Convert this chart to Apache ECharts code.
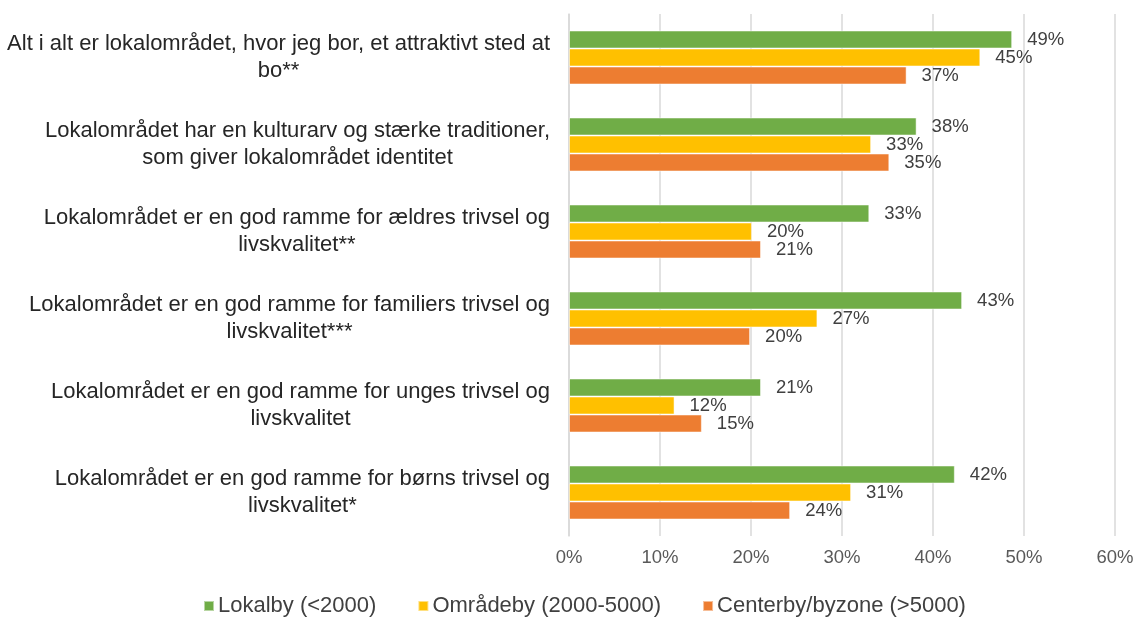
<!DOCTYPE html>
<html>
<head>
<meta charset="utf-8">
<script src="https://cdn.jsdelivr.net/npm/echarts@6/dist/echarts.min.js"></script>
<style>
  html, body { margin: 0; padding: 0; background: #fff; }
  #chart { width: 1138px; height: 617px; }
</style>
</head>
<body>
<div id="chart"></div>
<script>
const categories = [
  'Alt i alt er lokalområdet, hvor jeg bor, et attraktivt sted at\nbo**',
  'Lokalområdet har en kulturarv og stærke traditioner,\nsom giver lokalområdet identitet',
  'Lokalområdet er en god ramme for ældres trivsel og\nlivskvalitet**',
  'Lokalområdet er en god ramme for familiers trivsel og\nlivskvalitet***',
  'Lokalområdet er en god ramme for unges trivsel og\nlivskvalitet',
  'Lokalområdet er en god ramme for børns trivsel og\nlivskvalitet*',
]
const seriesNames = ['Lokalby (<2000)', 'Områdeby (2000-5000)', 'Centerby/byzone (>5000)']
const lokalby = [48.7, 38.2, 33.0, 43.2, 21.1, 42.4]
const omraadeby = [45.2, 33.2, 20.1, 27.3, 11.6, 31.0]
const centerby = [37.1, 35.2, 21.1, 19.9, 14.6, 24.3]
const colors = ['#70AD47', '#FFC000', '#ED7D31']

const font = 'Liberation Sans, Arial, sans-serif'
const chart = echarts.init(document.getElementById('chart'))

const makeSeries = (name, data, color) => ({
  name,
  type: 'bar',
  data,
  barWidth: 18,
  barGap: '0%',
  itemStyle: {
    color,
    borderColor: 'rgba(255,255,255,0.5)',
    borderWidth: 1,
  },
  label: {
    show: true,
    position: 'right',
    distance: 15,
    color: '#404040',
    fontFamily: font,
    fontSize: 18.5,
    formatter: (p) => Math.round(p.value) + '%',
  },
})

chart.setOption({
  animation: false,
  grid: {
    left: 569,
    right: 23,
    top: 14,
    bottom: 81,
  },
  legend: {
    data: seriesNames,
    left: 198,
    top: 590,
    itemWidth: 10,
    itemHeight: 10,
    itemGap: 41,
    icon: 'rect',
    textStyle: {
      color: '#404040',
      fontFamily: font,
      fontSize: 22,
      padding: [0, 0, 0, -1],
    },
  },
  xAxis: {
    type: 'value',
    min: 0,
    max: 60,
    interval: 10,
    axisLine: { show: false },
    axisTick: { show: false },
    splitLine: { lineStyle: { color: '#d9d9d9', width: 1.5 } },
    axisLabel: {
      margin: 12,
      color: '#595959',
      fontFamily: font,
      fontSize: 18.5,
      formatter: '{value}%',
    },
  },
  yAxis: {
    type: 'category',
    inverse: true,
    data: categories,
    axisLine: { show: true, lineStyle: { color: '#d9d9d9', width: 1.5 } },
    axisTick: { show: false },
    axisLabel: {
      margin: 19,
      align: 'right',
      formatter: (v) => v.split('\n').map((line) => '{c|' + line + '}').join('\n'),
      rich: {
        c: {
          align: 'center',
          color: '#262626',
          fontFamily: font,
          fontSize: 22,
          lineHeight: 27,
        },
      },
    },
  },
  series: [
    makeSeries(seriesNames[0], lokalby, colors[0]),
    makeSeries(seriesNames[1], omraadeby, colors[1]),
    makeSeries(seriesNames[2], centerby, colors[2]),
  ],
})
</script>
</body>
</html>
